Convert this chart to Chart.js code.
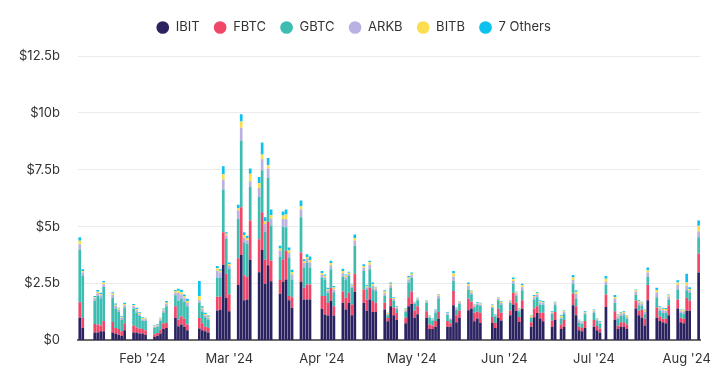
<!DOCTYPE html>
<html>
<head>
<meta charset="utf-8">
<script src="https://cdn.jsdelivr.net/npm/chart.js@4.4.1/dist/chart.umd.min.js"></script>
<style>
  html, body { margin: 0; padding: 0; background: #fff; }
  #wrap { width: 714px; height: 375px; position: relative; }
</style>
</head>
<body>
<div id="wrap"><canvas id="chartEtfVolume"></canvas></div>
<script>
// Daily spot bitcoin ETF trading volume, $ billions (trading days only)
const days = [
  '2024-01-11','2024-01-12','2024-01-16','2024-01-17','2024-01-18','2024-01-19','2024-01-22','2024-01-23','2024-01-24','2024-01-25','2024-01-26','2024-01-29','2024-01-30','2024-01-31',
  '2024-02-01','2024-02-02','2024-02-05','2024-02-06','2024-02-07','2024-02-08','2024-02-09','2024-02-12','2024-02-13','2024-02-14','2024-02-15','2024-02-16','2024-02-20','2024-02-21','2024-02-22','2024-02-23','2024-02-26','2024-02-27','2024-02-28','2024-02-29',
  '2024-03-01','2024-03-04','2024-03-05','2024-03-06','2024-03-07','2024-03-08','2024-03-11','2024-03-12','2024-03-13','2024-03-14','2024-03-15','2024-03-18','2024-03-19','2024-03-20','2024-03-21','2024-03-22','2024-03-25','2024-03-26','2024-03-27','2024-03-28',
  '2024-04-01','2024-04-02','2024-04-03','2024-04-04','2024-04-05','2024-04-08','2024-04-09','2024-04-10','2024-04-11','2024-04-12','2024-04-15','2024-04-16','2024-04-17','2024-04-18','2024-04-19','2024-04-22','2024-04-23','2024-04-24','2024-04-25','2024-04-26','2024-04-29','2024-04-30',
  '2024-05-01','2024-05-02','2024-05-03','2024-05-06','2024-05-07','2024-05-08','2024-05-09','2024-05-10','2024-05-13','2024-05-14','2024-05-15','2024-05-16','2024-05-17','2024-05-20','2024-05-21','2024-05-22','2024-05-23','2024-05-24','2024-05-28','2024-05-29','2024-05-30','2024-05-31',
  '2024-06-03','2024-06-04','2024-06-05','2024-06-06','2024-06-07','2024-06-10','2024-06-11','2024-06-12','2024-06-13','2024-06-14','2024-06-17','2024-06-18','2024-06-20','2024-06-21','2024-06-24','2024-06-25','2024-06-26','2024-06-27','2024-06-28',
  '2024-07-01','2024-07-02','2024-07-03','2024-07-05','2024-07-08','2024-07-09','2024-07-10','2024-07-11','2024-07-12','2024-07-15','2024-07-16','2024-07-17','2024-07-18','2024-07-19','2024-07-22','2024-07-23','2024-07-24','2024-07-25','2024-07-26','2024-07-29','2024-07-30','2024-07-31',
  '2024-08-01','2024-08-02','2024-08-05'
];

const ibit = [
  1.0,0.54,0.35,0.35,0.4,0.4,0.35,0.3,0.25,0.2,0.45,0.35,0.35,0.3,
  0.3,0.25,0.15,0.2,0.3,0.5,0.55,0.99,0.62,0.7,0.6,0.45,0.52,0.45,0.4,0.35,1.31,1.35,3.32,1.87,
  1.28,2.43,3.75,1.77,1.8,3.54,3.0,3.97,2.49,3.3,2.6,2.05,2.58,2.68,1.77,1.43,2.58,1.8,1.8,1.8,
  1.39,1.14,1.09,1.73,1.09,1.65,1.36,1.65,1.1,2.14,1.65,1.3,1.8,1.25,1.25,1.36,0.84,1.5,1.1,0.9,0.75,1.5,
  1.6,1.0,1.15,1.0,0.5,0.5,0.6,0.95,0.6,0.6,1.55,0.8,1.0,1.33,1.4,0.84,0.96,0.77,0.77,0.54,0.99,0.87,
  1.1,1.58,1.3,0.81,1.39,0.6,1.02,1.2,0.96,0.84,0.6,0.9,0.5,0.6,1.55,1.1,0.45,0.4,0.55,
  0.6,0.45,0.35,1.47,0.91,0.5,0.6,0.6,0.5,1.4,1.1,1.0,0.65,1.76,1.0,0.85,0.8,0.75,1.1,1.4,0.8,0.75,
  1.3,1.3,2.98
];
const fbtc = [
  0.68,0.45,0.37,0.35,0.25,0.45,0.46,0.25,0.25,0.2,0.3,0.3,0.22,0.22,
  0.2,0.2,0.12,0.12,0.18,0.25,0.22,0.51,0.29,0.35,0.35,0.25,0.47,0.3,0.2,0.2,0.61,0.57,1.43,1.06,
  0.74,1.18,2.1,1.09,1.0,1.73,1.45,1.66,1.05,1.9,0.9,0.6,0.99,1.26,0.18,0.47,1.28,0.51,0.66,0.66,
  0.56,0.81,0.56,0.58,0.41,0.5,0.51,0.44,0.48,0.79,0.59,0.5,0.51,0.48,0.4,0.29,0.15,0.35,0.35,0.3,0.25,0.4,
  0.55,0.3,0.35,0.28,0.2,0.15,0.25,0.3,0.25,0.15,0.62,0.3,0.3,0.51,0.3,0.37,0.3,0.44,0.26,0.23,0.41,0.35,
  0.21,0.51,0.35,0.22,0.37,0.2,0.38,0.3,0.25,0.37,0.28,0.35,0.2,0.3,0.5,0.4,0.15,0.15,0.3,
  0.3,0.18,0.17,0.55,0.37,0.15,0.2,0.2,0.2,0.35,0.2,0.35,0.3,0.67,0.45,0.2,0.15,0.2,0.45,0.4,0.2,0.2,
  0.57,0.45,0.84
];
const gbtc = [
  2.3,1.84,1.01,1.25,1.2,1.5,1.06,0.85,0.75,0.5,0.7,0.75,0.66,0.55,
  0.35,0.4,0.28,0.28,0.38,0.48,0.73,0.48,0.82,0.77,0.75,0.8,0.66,0.5,0.42,0.37,0.84,0.84,1.87,1.55,
  1.13,1.73,2.92,1.45,1.45,1.47,1.85,1.85,1.24,1.95,1.55,1.03,1.44,1.03,1.69,0.78,1.55,0.89,0.96,0.74,
  0.81,0.73,0.44,0.82,0.62,0.65,0.81,0.74,0.73,1.23,0.81,0.45,0.82,0.51,0.52,0.3,0.12,0.45,0.3,0.18,0.25,0.65,
  0.6,0.3,0.26,0.37,0.3,0.22,0.38,0.6,0.28,0.15,0.44,0.25,0.3,0.4,0.33,0.25,0.3,0.3,0.4,0.29,0.36,0.35,
  0.34,0.4,0.3,0.25,0.44,0.18,0.4,0.4,0.36,0.36,0.28,0.3,0.25,0.28,0.44,0.34,0.18,0.18,0.3,
  0.3,0.24,0.2,0.41,0.37,0.3,0.28,0.3,0.25,0.25,0.25,0.18,0.2,0.36,0.45,0.25,0.25,0.25,0.25,0.44,0.2,0.22,
  0.33,0.35,0.71
];
const arkb = [
  0.25,0.15,0.12,0.12,0.12,0.12,0.12,0.12,0.1,0.08,0.1,0.1,0.1,0.08,
  0.08,0.08,0.05,0.06,0.07,0.08,0.1,0.13,0.35,0.2,0.15,0.15,0.12,0.12,0.08,0.07,0.3,0.22,0.44,0.14,
  0.12,0.37,0.58,0.2,0.15,0.25,0.4,0.48,0.34,0.41,0.3,0.26,0.33,0.36,0.2,0.22,0.34,0.2,0.17,0.22,
  0.12,0.1,0.1,0.17,0.12,0.15,0.1,0.09,0.07,0.22,0.14,0.08,0.2,0.15,0.1,0.12,0.04,0.12,0.07,0.05,0.07,0.13,
  0.12,0.05,0.05,0.06,0.05,0.05,0.07,0.1,0.06,0.05,0.2,0.06,0.07,0.15,0.07,0.06,0.06,0.07,0.04,0.04,0.07,0.07,
  0.05,0.12,0.1,0.06,0.14,0.04,0.1,0.12,0.1,0.08,0.06,0.08,0.05,0.07,0.16,0.2,0.07,0.06,0.07,
  0.08,0.06,0.06,0.15,0.18,0.1,0.09,0.1,0.08,0.14,0.12,0.08,0.1,0.19,0.2,0.1,0.12,0.1,0.12,0.2,0.08,0.1,
  0.2,0.1,0.26
];
const bitb = [
  0.15,0.07,0.05,0.07,0.07,0.07,0.07,0.05,0.05,0.04,0.05,0.05,0.05,0.05,
  0.05,0.04,0.03,0.03,0.04,0.05,0.06,0.06,0.1,0.1,0.08,0.08,0.18,0.06,0.06,0.05,0.11,0.08,0.24,0.07,
  0.08,0.1,0.27,0.12,0.1,0.34,0.22,0.21,0.12,0.15,0.15,0.1,0.15,0.2,0.12,0.1,0.15,0.08,0.08,0.11,
  0.08,0.06,0.06,0.1,0.08,0.1,0.07,0.05,0.04,0.12,0.08,0.05,0.1,0.08,0.05,0.08,0.05,0.07,0.04,0.04,0.05,0.08,
  0.06,0.03,0.03,0.03,0.03,0.02,0.03,0.04,0.03,0.02,0.14,0.03,0.04,0.08,0.08,0.04,0.02,0.04,0.08,0.02,0.04,0.06,
  0.04,0.08,0.05,0.03,0.09,0.06,0.05,0.06,0.05,0.04,0.03,0.04,0.07,0.04,0.12,0.1,0.03,0.03,0.03,
  0.04,0.03,0.03,0.13,0.08,0.05,0.05,0.05,0.05,0.06,0.05,0.06,0.08,0.1,0.12,0.06,0.07,0.08,0.06,0.1,0.05,0.05,
  0.15,0.06,0.25
];
const others = [
  0.15,0.08,0.05,0.07,0.05,0.07,0.06,0.05,0.03,0.04,0.05,0.05,0.05,0.04,
  0.04,0.03,0.02,0.03,0.03,0.04,0.07,0.04,0.09,0.11,0.09,0.1,0.66,0.07,0.05,0.05,0.1,0.07,0.35,0.06,
  0.07,0.15,0.32,0.12,0.1,0.22,0.26,0.53,0.17,0.31,0.25,0.12,0.17,0.22,0.12,0.1,0.25,0.09,0.12,0.16,
  0.09,0.06,0.06,0.1,0.07,0.1,0.05,0.05,0.04,0.15,0.08,0.04,0.07,0.07,0.04,0.05,0.01,0.05,0.04,0.03,0.03,0.07,
  0.05,0.02,0.03,0.03,0.02,0.02,0.03,0.03,0.03,0.02,0.1,0.02,0.02,0.07,0.02,0.02,0.04,0.03,0.03,0.02,0.03,0.03,
  0.02,0.07,0.04,0.03,0.06,0.02,0.04,0.04,0.04,0.04,0.03,0.03,0.03,0.02,0.1,0.06,0.03,0.02,0.03,
  0.04,0.03,0.03,0.12,0.08,0.04,0.03,0.03,0.02,0.04,0.04,0.03,0.03,0.12,0.09,0.04,0.05,0.04,0.04,0.1,0.03,0.03,
  0.38,0.08,0.23
];

const monthTicks = ['2024-02-01','2024-03-01','2024-04-01','2024-05-01','2024-06-01','2024-07-01','2024-08-01'];
const monthLabels = ["Feb '24","Mar '24","Apr '24","May '24","Jun '24","Jul '24","Aug '24"];

// x position = calendar day offset from first day, so weekends leave gaps
const firstDay = Date.parse(days[0]);
const dayIdx = s => Math.round((Date.parse(s) - firstDay) / 86400000);
const lastIdx = dayIdx(days[days.length - 1]);

const toPoints = arr => days.map((d, i) => ({ x: dayIdx(d), y: arr[i] }));

const series = [
  { label: 'IBIT', data: ibit, color: '#2b2260' },
  { label: 'FBTC', data: fbtc, color: '#f04668' },
  { label: 'GBTC', data: gbtc, color: '#3dbdb1' },
  { label: 'ARKB', data: arkb, color: '#b9b1e1' },
  { label: 'BITB', data: bitb, color: '#fbdd4f' },
  { label: '7 Others', data: others, color: '#0cc2ef' }
];

const FONT = "Inter, 'Noto Sans', sans-serif";

// a bit more room between legend and plot
const legendGap = {
  id: 'legendGap',
  beforeInit(chart) {
    const fit = chart.legend.fit;
    chart.legend.fit = function () {
      fit.bind(chart.legend)();
      this.height += 12;
    };
  }
};

new Chart(document.getElementById('chartEtfVolume').getContext('2d'), {
  type: 'bar',
  data: {
    datasets: series.map(s => ({
      label: s.label,
      data: toPoints(s.data),
      backgroundColor: s.color,
      borderWidth: 0,
      categoryPercentage: 0.9,
      barPercentage: 1
    }))
  },
  plugins: [legendGap],
  options: {
    responsive: true,
    maintainAspectRatio: false,
    animation: false,
    layout: { padding: { left: 1, right: 8, top: 7, bottom: 5 } },
    plugins: {
      legend: {
        position: 'top',
        align: 'center',
        labels: {
          usePointStyle: true,
          pointStyle: 'circle',
          boxWidth: 13,
          boxHeight: 9,
          padding: 14,
          color: '#333',
          font: { family: FONT, size: 13 }
        }
      },
      tooltip: { enabled: false }
    },
    scales: {
      x: {
        type: 'linear',
        stacked: true,
        offset: false,
        min: -0.6,
        max: lastIdx + 0.6,
        grid: { display: false },
        border: { display: true, color: '#6b6b6b', width: 2 },
        afterBuildTicks: axis => { axis.ticks = monthTicks.map(d => ({ value: dayIdx(d) })); },
        ticks: {
          autoSkip: false,
          maxRotation: 0,
          padding: 3,
          color: '#333',
          font: { family: FONT, size: 13 },
          callback: v => {
            const i = monthTicks.findIndex(d => dayIdx(d) === v);
            return i >= 0 ? monthLabels[i] : '';
          }
        }
      },
      y: {
        stacked: true,
        min: 0,
        max: 12.5,
        grid: { color: '#ebebeb', drawTicks: false },
        border: { display: false },
        ticks: {
          stepSize: 2.5,
          padding: 18,
          color: '#333',
          font: { family: FONT, size: 13 },
          callback: v => v === 0 ? '$0' : '$' + v + 'b'
        }
      }
    }
  }
});
</script>
</body>
</html>
